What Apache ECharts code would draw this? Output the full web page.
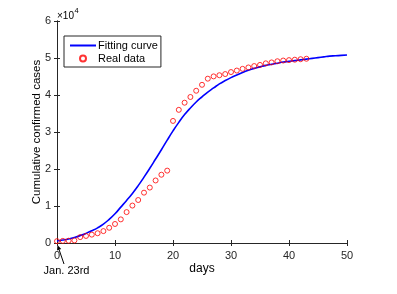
<!DOCTYPE html>
<html>
<head>
<meta charset="utf-8">
<script src="https://cdn.jsdelivr.net/npm/echarts@6/dist/echarts.min.js"></script>
<style>
html,body{margin:0;padding:0;background:#fff;}
#chart{width:397px;height:294px;}
</style>
</head>
<body>
<div id="chart"></div>
<script>
// Real data (days since Jan. 23rd)
const realDays = [0,1,2,3,4,5,6,7,8,9,10,11,12,13,14,15,16,17,18,19,20,21,22,23,24,25,26,27,28,29,30,31,32,33,34,35,36,37,38,39,40,41,42,43];
const realCases = [495,572,618,698,1590,1905,2261,2639,3215,4109,5142,6384,8351,10117,11618,13603,14982,16902,18454,19558,
  32994,35991,37914,39462,41152,42752,44412,45027,45346,45660,46201,46607,47071,47441,47824,48137,48557,48802,49122,49315,49426,49540,49671,49797];
// Fitting curve
const fitDays = [0,1,2,3,4,5,6,7,8,9,10,11,12,13,14,15,16,17,18,19,20,21,22,23,24,25,26,27,28,29,30,31,32,33,34,35,36,37,38,39,40,41,42,43,44,45,46,47,48,49,50];
const fitCases = [550,800,1100,1500,2000,2600,3300,4100,5100,6400,7900,9700,11500,13400,15500,17800,20200,22700,25200,27800,
  30300,32600,34700,36500,38100,39500,40800,41900,43000,43900,44700,45400,46100,46700,47200,47600,48000,48300,48600,48900,
  49100,49300,49500,49700,49900,50100,50300,50500,50600,50700,50800];
const xTicks = [0,10,20,30,40,50];
const yTickLabels = ['0','1','2','3','4','5','6'];

const axisColor = '#262626';
const font = 'Liberation Sans, Arial, Helvetica, sans-serif';

const chart = echarts.init(document.getElementById('chart'), null, {renderer:'canvas'});
const lineData = fitDays.map((d,i)=>[d, fitCases[i]]);
const scatterData = realDays.map((d,i)=>[d, realCases[i]]);

const commonAxisLine = {show:true, lineStyle:{color:axisColor, width:1}};
chart.setOption({
  animation:false,
  backgroundColor:'#fff',
  textStyle:{fontFamily:font},
  grid:{left:57, top:21, width:290, height:222, containLabel:false},
  legend:{
    orient:'vertical', left:64, top:36,
    backgroundColor:'#fff', borderColor:axisColor, borderWidth:1,
    padding:[4,3,3,5], itemGap:2, itemWidth:26, itemHeight:6,
    textStyle:{fontSize:11, color:'#000', fontFamily:font, padding:[0,0,0,-3]},
    data:[{name:'Fitting curve', itemStyle:{opacity:0}},{name:'Real data'}]
  },
  xAxis:[{
    type:'value', min:0, max:50, interval:10, position:'bottom',
    name:'days', nameLocation:'middle', nameGap:20, nameMoveOverlap:false,
    nameTextStyle:{fontSize:12, color:'#000', fontFamily:font},
    axisLine:commonAxisLine,
    axisTick:{show:true, inside:true, length:3, lineStyle:{color:axisColor}},
    axisLabel:{fontSize:11, color:axisColor, margin:7, fontFamily:font,
      formatter:function(v){return xTicks.indexOf(v)>=0?String(v):'';}},
    splitLine:{show:false}
  },{
    type:'value', min:0, max:50, interval:10, position:'top',
    axisLine:commonAxisLine,
    axisTick:{show:true, inside:true, length:3, lineStyle:{color:axisColor}},
    axisLabel:{show:false}, splitLine:{show:false}
  }],
  yAxis:[{
    type:'value', min:0, max:60000, interval:10000, position:'left',
    name:'Cumulative confirmed cases', nameLocation:'middle', nameGap:14, nameMoveOverlap:false,
    nameTextStyle:{fontSize:11.5, color:'#000', fontFamily:font},
    axisLine:commonAxisLine,
    axisTick:{show:true, inside:true, length:3, lineStyle:{color:axisColor}},
    axisLabel:{fontSize:11, color:axisColor, margin:6, fontFamily:font,
      formatter:function(v){return yTickLabels[Math.round(v/10000)];}},
    splitLine:{show:false}
  },{
    type:'value', min:0, max:60000, interval:10000, position:'right',
    axisLine:commonAxisLine,
    axisTick:{show:true, inside:true, length:3, lineStyle:{color:axisColor}},
    axisLabel:{show:false}, splitLine:{show:false}
  }],
  series:[{
    name:'Fitting curve', type:'line', data:lineData, smooth:true,
    symbol:'none', showSymbol:false,
    lineStyle:{color:'#0000ff', width:1.6}, itemStyle:{color:'#0000ff'},
    z:2
  },{
    name:'Real data', type:'scatter', data:scatterData,
    symbol:'circle', symbolSize:5,
    itemStyle:{color:'rgba(255,255,255,0)', borderColor:'#ff0000', borderWidth:1},
    z:3
  }]
});

const tip = chart.convertToPixel({xAxisIndex:0, yAxisIndex:0}, [0,0]);
const tipX = tip[0] + 0.5, tipY = tip[1] + 2;
const tailX = tipX + 6.5, tailY = tipY + 19;
const ang = Math.atan2(tipY - tailY, tipX - tailX);
const hl = 5, hw = 2.2;
const bx = tipX - hl*Math.cos(ang), by = tipY - hl*Math.sin(ang);
const px = -Math.sin(ang), py = Math.cos(ang);

chart.setOption({
  graphic:[
    {type:'text', left:57, top:11, style:{text:'×10', fontSize:10, fill:'#000', fontFamily:font}},
    {type:'text', left:74.5, top:7, style:{text:'4', fontSize:7.5, fill:'#000', fontFamily:font}},
    {type:'line', shape:{x1:tailX, y1:tailY, x2:bx, y2:by}, style:{stroke:'#000', lineWidth:1}, silent:true},
    {type:'polygon', shape:{points:[[tipX,tipY],[bx+px*hw,by+py*hw],[bx-px*hw,by-py*hw]]}, style:{fill:'#000'}, silent:true},
    {type:'text', x:66.5, y:271, style:{text:'Jan. 23rd', fontSize:11, fill:'#000', fontFamily:font, align:'center', verticalAlign:'middle'}}
  ]
});
</script>
</body>
</html>
